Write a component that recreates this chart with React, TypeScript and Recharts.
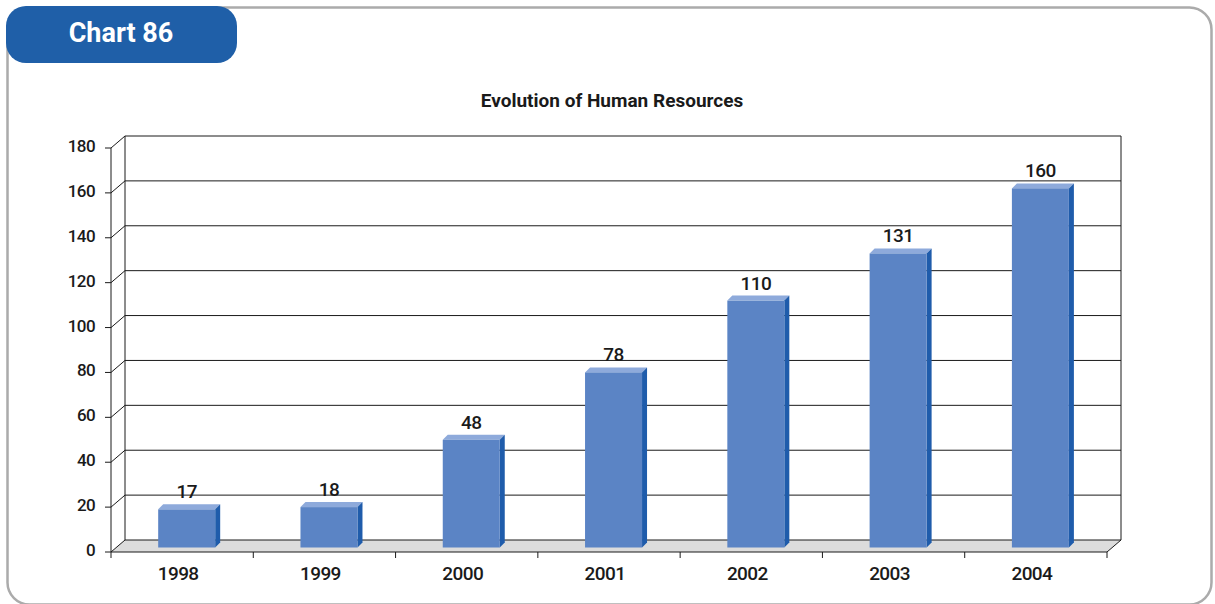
import React from 'react';
import { BarChart, Bar, XAxis, YAxis, CartesianGrid, LabelList } from 'recharts';

const years = ['1998', '1999', '2000', '2001', '2002', '2003', '2004'];
const staff = [17, 18, 48, 78, 110, 131, 160];
const yTicks = [0, 20, 40, 60, 80, 100, 120, 140, 160, 180];

const data = years.map((year, i) => ({ year, staff: staff[i] }));

const FONT = "'Liberation Sans Narrow', 'Arial Narrow', Roboto, sans-serif";
const INK = '#1a1a1a';

// front plane of the plot
const PLOT_LEFT = 111;
const PLOT_RIGHT = 1107;
const PLOT_TOP = 148;
const PLOT_BOTTOM = 552;
const STEP = (PLOT_RIGHT - PLOT_LEFT) / years.length;

// depth of the wall / floor, and of each bar
const DX = 14;
const DY = -12;
const BAR_SHIFT = 4.5;
const BAR_DEPTH = 5;

const WallLine = (props: any) => {
  const { x1, x2, y1, y, height } = props;
  const bottom = y + height;
  const isFloor = Math.abs(y1 - bottom) < 0.5;
  const isTop = Math.abs(y1 - y) < 0.5;
  return (
    <g>
      {isFloor && (
        <polygon
          points={`${x1},${y1} ${x2},${y1} ${x2 + DX},${y1 + DY} ${x1 + DX},${y1 + DY}`}
          fill="#dcdcdc"
        />
      )}
      <line x1={x1} y1={y1} x2={x1 + DX} y2={y1 + DY} stroke={INK} />
      <line x1={x1 + DX} y1={y1 + DY} x2={x2 + DX} y2={y1 + DY} stroke={INK} />
      {isFloor && <line x1={x2} y1={y1} x2={x2 + DX} y2={y1 + DY} stroke={INK} />}
      {isTop && (
        <>
          <line x1={x1 + DX} y1={y1 + DY} x2={x1 + DX} y2={bottom + DY} stroke={INK} />
          <line x1={x2 + DX} y1={y1 + DY} x2={x2 + DX} y2={bottom + DY} stroke={INK} />
        </>
      )}
    </g>
  );
};

const Bar3D = (props: any) => {
  const { x, y, width, height } = props;
  const fx = x + BAR_SHIFT;
  const fy = y - BAR_SHIFT;
  const d = BAR_DEPTH;
  return (
    <g>
      <polygon
        points={`${fx},${fy} ${fx + d},${fy - d} ${fx + width + d},${fy - d} ${fx + width},${fy}`}
        fill="#8eaadb"
      />
      <polygon
        points={`${fx + width},${fy} ${fx + width + d},${fy - d} ${fx + width + d},${fy + height - d} ${fx + width},${fy + height}`}
        fill="#1f5cab"
      />
      <rect x={fx} y={fy} width={width} height={height} fill="#5b84c5" />
    </g>
  );
};

const ValueLabel = (props: any) => {
  const { x, y, width, value } = props;
  return (
    <text
      x={x + BAR_SHIFT + width / 2}
      y={y - BAR_SHIFT - 11}
      textAnchor="middle"
      fontSize={19}
      fontWeight={500}
      letterSpacing={-0.6}
      fontFamily={FONT}
      fill={INK}
    >
      {value}
    </text>
  );
};

const YearTick = (props: any) => {
  const { x, y, payload, index } = props;
  const left = x - STEP / 2;
  const right = x + STEP / 2;
  return (
    <g>
      <line x1={left} y1={PLOT_BOTTOM} x2={left} y2={PLOT_BOTTOM + 6} stroke={INK} />
      {index === years.length - 1 && (
        <line x1={right} y1={PLOT_BOTTOM} x2={right} y2={PLOT_BOTTOM + 6} stroke={INK} />
      )}
      <text
        x={x - 4}
        y={y}
        dy="0.71em"
        textAnchor="middle"
        fontSize={19}
        fontWeight={500}
        letterSpacing={-0.6}
        fontFamily={FONT}
        fill={INK}
      >
        {payload.value}
      </text>
    </g>
  );
};

export default function App() {
  return (
    <div style={{ position: 'absolute', left: 0, top: 0, width: 1215, height: 604, background: '#fff', overflow: 'hidden' }}>
      <svg width={1215} height={604} style={{ position: 'absolute', left: 0, top: 0 }}>
        <rect x={7.5} y={7.5} width={1204} height={597} rx={22} fill="#fff" stroke="#ababab" strokeWidth={2.5} />
        <rect x={6} y={6} width={231} height={57} rx={20} fill="#1f5fa8" />
        <text x={121} y={42} textAnchor="middle" fontSize={27} fontWeight="bold" fontFamily={FONT} fill="#fff">
          Chart 86
        </text>
        <text x={612} y={107} textAnchor="middle" fontSize={19} fontWeight="bold" fontFamily={FONT} fill={INK}>
          Evolution of Human Resources
        </text>
      </svg>
      <div style={{ position: 'absolute', left: 0, top: 0 }}>
        <BarChart
          width={1215}
          height={604}
          data={data}
          margin={{ top: PLOT_TOP, right: 1215 - PLOT_RIGHT, bottom: 604 - PLOT_BOTTOM - 40, left: PLOT_LEFT - 60 }}
          barCategoryGap="30%"
        >
          <CartesianGrid vertical={false} horizontal={WallLine} />
          <XAxis
            dataKey="year"
            height={40}
            axisLine={{ stroke: INK }}
            tickLine={false}
            tickSize={6}
            tickMargin={9}
            tick={YearTick}
            interval={0}
          />
          <YAxis
            width={60}
            domain={[0, 180]}
            ticks={yTicks}
            interval={0}
            axisLine={{ stroke: INK }}
            tickLine={{ stroke: INK }}
            tickSize={6}
            tickMargin={10}
            tick={{ fontSize: 17, fontWeight: 500, letterSpacing: -0.6, fontFamily: FONT, fill: INK, dy: -2 }}
          />
          <Bar dataKey="staff" shape={Bar3D} isAnimationActive={false}>
            <LabelList dataKey="staff" content={ValueLabel} />
          </Bar>
        </BarChart>
      </div>
    </div>
  );
}
